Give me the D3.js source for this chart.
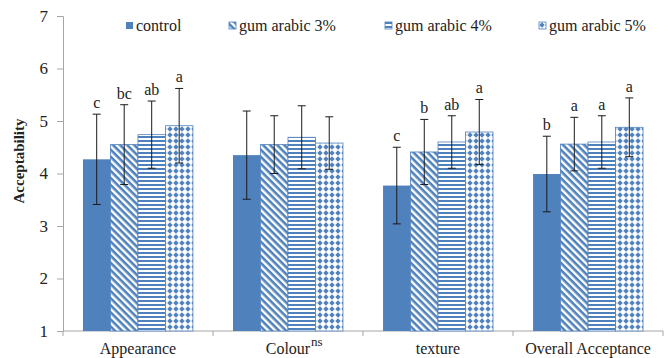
<!DOCTYPE html>
<html>
<head>
<meta charset="utf-8">
<script src="https://cdn.jsdelivr.net/npm/d3@7"></script>
<style>
  body { margin: 0; background: #fff; }
  svg text { font-family: "Liberation Serif", "Times New Roman", serif; fill: #222; }
</style>
</head>
<body>
<div id="chart"></div>
<script>
const categories = ["Appearance", "Colour", "texture", "Overall Acceptance"];
const seriesNames = ["control", "gum arabic 3%", "gum arabic 4%", "gum arabic 5%"];
// means per category, one array per series
const control = [4.27, 4.35, 3.77, 3.99];
const gum3 = [4.55, 4.55, 4.41, 4.56];
const gum4 = [4.74, 4.69, 4.60, 4.60];
const gum5 = [4.91, 4.58, 4.79, 4.88];
const errControl = [0.86, 0.84, 0.73, 0.72];
const errGum3 = [0.76, 0.55, 0.62, 0.51];
const errGum4 = [0.64, 0.60, 0.50, 0.50];
const errGum5 = [0.71, 0.50, 0.62, 0.56];
const letterControl = ["c", "", "c", "b"];
const letterGum3 = ["bc", "", "b", "a"];
const letterGum4 = ["ab", "", "ab", "a"];
const letterGum5 = ["a", "", "a", "a"];
const yTicks = [1, 2, 3, 4, 5, 6, 7];

const values = [control, gum3, gum4, gum5];
const errors = [errControl, errGum3, errGum4, errGum5];
const letters = [letterControl, letterGum3, letterGum4, letterGum5];

const width = 668, height = 358;
const margin = { top: 16, right: 5, bottom: 27, left: 63 };
const blue = "#4f81bd";
const serif = "Liberation Serif, Times New Roman, serif";

const svg = d3.select("#chart").append("svg")
    .attr("width", width)
    .attr("height", height)
    .attr("font-family", serif);

// fill patterns
const defs = svg.append("defs");
const diag = defs.append("pattern").attr("id", "p3")
    .attr("patternUnits", "userSpaceOnUse").attr("width", 5).attr("height", 5)
    .attr("patternTransform", "rotate(45)");
diag.append("rect").attr("width", 5).attr("height", 5).attr("fill", "#fff");
diag.append("rect").attr("width", 5).attr("height", 2.6).attr("fill", blue);

const horiz = defs.append("pattern").attr("id", "p4")
    .attr("patternUnits", "userSpaceOnUse").attr("width", 4).attr("height", 4);
horiz.append("rect").attr("width", 4).attr("height", 4).attr("fill", "#fff");
horiz.append("rect").attr("width", 4).attr("height", 2).attr("fill", blue);

const dots = defs.append("pattern").attr("id", "p5")
    .attr("patternUnits", "userSpaceOnUse").attr("width", 6).attr("height", 6);
dots.append("rect").attr("width", 6).attr("height", 6).attr("fill", "#fff");
dots.append("path").attr("d", "M3,0.3 L5.7,3 L3,5.7 L0.3,3 Z").attr("fill", blue);

const fills = [blue, "url(#p3)", "url(#p4)", "url(#p5)"];

const x0 = d3.scaleBand()
    .domain(categories)
    .range([margin.left, width - margin.right])
    .paddingInner(0.267)
    .paddingOuter(0.133);

const x1 = d3.scaleBand()
    .domain(seriesNames)
    .range([0, x0.bandwidth()]);

const y = d3.scaleLinear()
    .domain([1, 7])
    .range([height - margin.bottom, margin.top]);

// axes
const yAxis = d3.axisLeft(y).tickValues(yTicks).tickFormat(d3.format("d")).tickSize(6).tickPadding(9);
const gy = svg.append("g")
    .attr("transform", "translate(" + margin.left + ",0)")
    .call(yAxis);
gy.attr("font-family", serif);
gy.selectAll("path, line").attr("stroke", "#a6a6a6");
gy.selectAll("text").attr("font-size", 17).attr("fill", "#222");

const xEdge = d3.scaleLinear()
    .domain([0, categories.length])
    .range([margin.left, width - margin.right]);
const gx = svg.append("g")
    .attr("transform", "translate(0," + (height - margin.bottom) + ")");
gx.append("line")
    .attr("x1", xEdge(0)).attr("x2", xEdge(categories.length))
    .attr("stroke", "#a6a6a6");
gx.selectAll(".tk").data(d3.range(categories.length + 1)).enter()
    .append("line")
    .attr("x1", d => xEdge(d)).attr("x2", d => xEdge(d))
    .attr("y1", 0).attr("y2", 5)
    .attr("stroke", "#a6a6a6");
gx.selectAll(".lbl").data(categories).enter()
    .append("text")
    .attr("x", d => x0(d) + x0.bandwidth() / 2)
    .attr("y", 23)
    .attr("text-anchor", "middle")
    .attr("font-size", 16)
    .text(d => d);
// "ns" superscript on Colour
gx.append("text")
    .attr("x", x0("Colour") + x0.bandwidth() / 2 + 23)
    .attr("y", 15)
    .attr("font-size", 13)
    .text("ns");

// bars
const groups = svg.selectAll(".grp").data(categories).enter()
    .append("g")
    .attr("transform", d => "translate(" + x0(d) + ",0)");

seriesNames.forEach((s, si) => {
    groups.append("rect")
        .attr("x", x1(s))
        .attr("width", x1.bandwidth())
        .attr("y", (d, ci) => y(values[si][ci]))
        .attr("height", (d, ci) => y(1) - y(values[si][ci]))
        .attr("fill", fills[si])
        .attr("stroke", si === 0 ? "none" : blue)
        .attr("stroke-width", 0.8);
});

// error bars + letters
seriesNames.forEach((s, si) => {
    const cx = x1(s) + x1.bandwidth() / 2;
    groups.append("line")
        .attr("x1", cx).attr("x2", cx)
        .attr("y1", (d, ci) => y(values[si][ci] + errors[si][ci]))
        .attr("y2", (d, ci) => y(values[si][ci] - errors[si][ci]))
        .attr("stroke", "#1a1a1a").attr("stroke-width", 1);
    [1, -1].forEach(sign => {
        groups.append("line")
            .attr("x1", cx - 4).attr("x2", cx + 4)
            .attr("y1", (d, ci) => y(values[si][ci] + sign * errors[si][ci]))
            .attr("y2", (d, ci) => y(values[si][ci] + sign * errors[si][ci]))
            .attr("stroke", "#1a1a1a").attr("stroke-width", 1);
    });
    groups.append("text")
        .attr("x", cx)
        .attr("y", (d, ci) => y(values[si][ci] + errors[si][ci]) - 6)
        .attr("text-anchor", "middle")
        .attr("font-size", 16)
        .text((d, ci) => letters[si][ci]);
});

// legend
const legendX = [126, 229, 385, 539];
const legend = svg.selectAll(".leg").data(seriesNames).enter()
    .append("g")
    .attr("transform", (d, i) => "translate(" + legendX[i] + ",22)");
legend.append("rect")
    .attr("width", 7).attr("height", 7)
    .attr("fill", (d, i) => fills[i])
    .attr("stroke", (d, i) => i === 0 ? "none" : blue)
    .attr("stroke-width", 0.8);
legend.append("text")
    .attr("x", 10).attr("y", 9)
    .attr("font-size", 16)
    .text(d => d);

// y axis title
svg.append("text")
    .attr("transform", "translate(24,161) rotate(-90)")
    .attr("text-anchor", "middle")
    .attr("font-size", 15)
    .attr("font-weight", "bold")
    .text("Acceptability");
</script>
</body>
</html>
